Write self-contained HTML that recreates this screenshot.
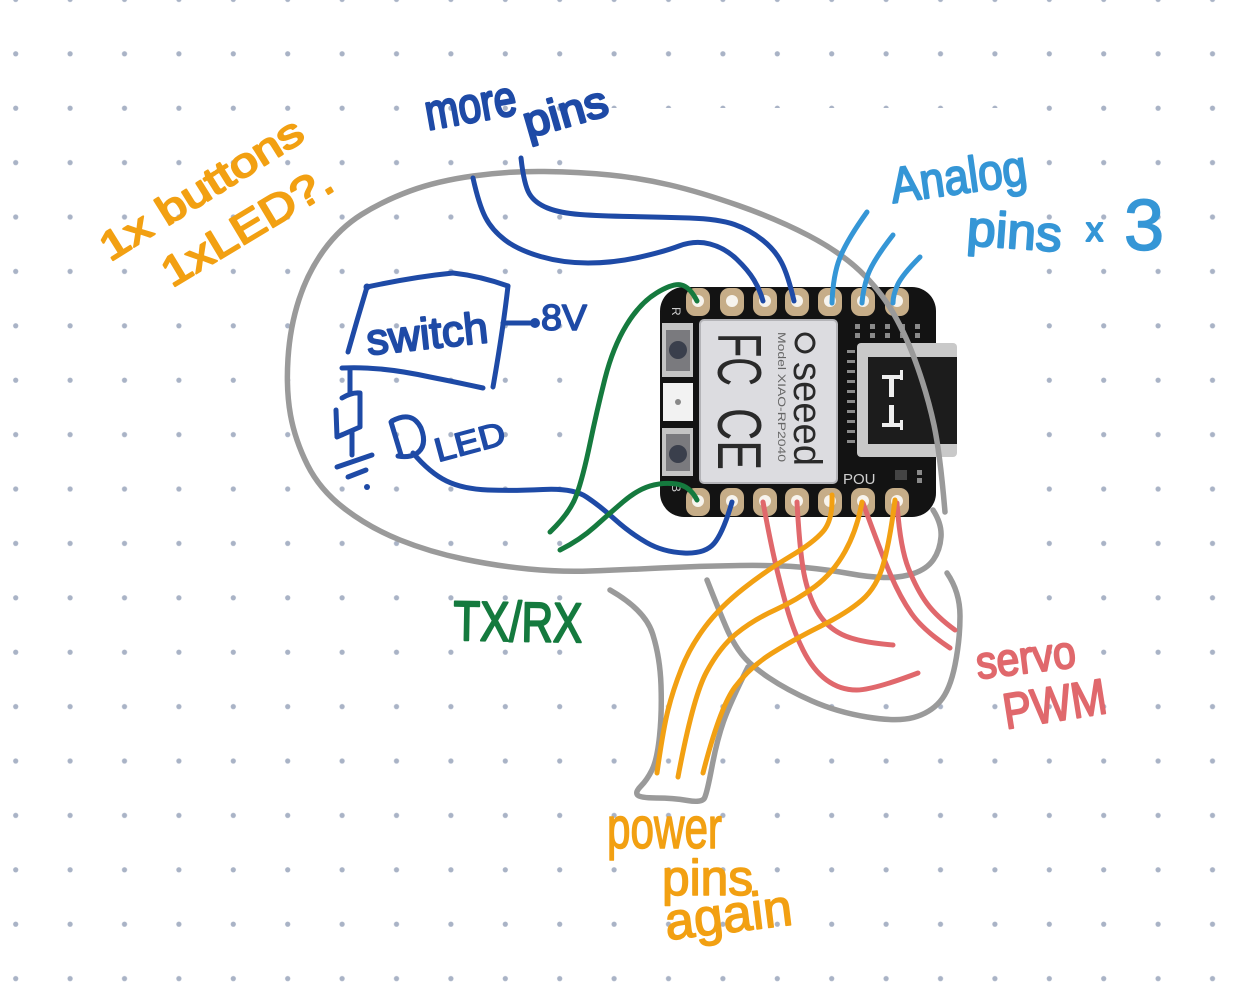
<!DOCTYPE html>
<html><head><meta charset="utf-8"><style>
html,body{margin:0;padding:0;background:#fff;}
svg{display:block;}
text{font-family:"Liberation Sans",sans-serif;}
.w{fill:none;stroke-linecap:round;stroke-linejoin:round;}
</style></head><body>
<svg width="1239" height="990" viewBox="0 0 1239 990" xmlns="http://www.w3.org/2000/svg">
<defs>
<pattern id="dots" x="-11.5" y="-27.8" width="54.4" height="54.4" patternUnits="userSpaceOnUse">
<circle cx="27.2" cy="27.2" r="2.6" fill="#a9b3c6"/>
</pattern>
</defs>
<rect width="1239" height="990" fill="#fff"/>
<rect width="1239" height="990" fill="url(#dots)"/>
<rect x="590" y="108" width="432" height="572" fill="#fff"/>

<!-- BOARD -->
<g>
<rect x="660" y="287" width="276" height="230" rx="24" fill="#131313"/>
<!-- top pads -->
<g fill="#c6ad88">
<rect x="686" y="288" width="24" height="28" rx="9"/>
<rect x="720" y="288" width="24" height="28" rx="9"/>
<rect x="753" y="288" width="24" height="28" rx="9"/>
<rect x="785" y="288" width="24" height="28" rx="9"/>
<rect x="818" y="288" width="24" height="28" rx="9"/>
<rect x="851" y="288" width="24" height="28" rx="9"/>
<rect x="885" y="288" width="24" height="28" rx="9"/>
<rect x="686" y="488" width="24" height="28" rx="9"/>
<rect x="720" y="488" width="24" height="28" rx="9"/>
<rect x="753" y="488" width="24" height="28" rx="9"/>
<rect x="785" y="488" width="24" height="28" rx="9"/>
<rect x="818" y="488" width="24" height="28" rx="9"/>
<rect x="851" y="488" width="24" height="28" rx="9"/>
<rect x="885" y="488" width="24" height="28" rx="9"/>
</g>
<g fill="#f7f4ee">
<circle cx="698" cy="301" r="6"/><circle cx="732" cy="301" r="6"/><circle cx="765" cy="301" r="6"/><circle cx="797" cy="301" r="6"/><circle cx="830" cy="301" r="6"/><circle cx="863" cy="301" r="6"/><circle cx="897" cy="301" r="6"/>
<circle cx="698" cy="501" r="6"/><circle cx="732" cy="501" r="6"/><circle cx="765" cy="501" r="6"/><circle cx="797" cy="501" r="6"/><circle cx="830" cy="501" r="6"/><circle cx="863" cy="501" r="6"/><circle cx="897" cy="501" r="6"/>
</g>
<!-- shield -->
<rect x="700" y="320" width="137" height="163" rx="4" fill="#dcdce0" stroke="#b4b4b8" stroke-width="2"/>
<text transform="translate(718,333) rotate(90)" font-size="62" fill="#2a2a2a" textLength="53" lengthAdjust="spacingAndGlyphs">FC</text>
<text transform="translate(718,408) rotate(90)" font-size="62" fill="#2a2a2a" textLength="62" lengthAdjust="spacingAndGlyphs">CE</text>
<circle cx="805" cy="343" r="9" fill="none" stroke="#2a2a2a" stroke-width="3"/>
<text transform="translate(794,362) rotate(90)" font-size="40" fill="#2a2a2a" textLength="104" lengthAdjust="spacingAndGlyphs">seeed</text>
<text transform="translate(778,332) rotate(90)" font-size="11" fill="#666" textLength="130" lengthAdjust="spacingAndGlyphs">Model XIAO-RP2040</text>
<!-- buttons -->
<rect x="662" y="323" width="31" height="54" fill="#c4c4c4"/>
<rect x="666" y="330" width="24" height="41" fill="#7a7a7e"/>
<circle cx="678" cy="350" r="9" fill="#3a3f4c"/>
<rect x="662" y="428" width="31" height="48" fill="#c4c4c4"/>
<rect x="666" y="434" width="24" height="37" fill="#7a7a7e"/>
<circle cx="678" cy="454" r="9" fill="#3a3f4c"/>
<rect x="663" y="383" width="30" height="38" fill="#f2f2f2"/>
<circle cx="678" cy="402" r="3" fill="#888"/>
<text transform="translate(672,307) rotate(90)" font-size="12" fill="#ccc">R</text>
<text transform="translate(672,484) rotate(90)" font-size="12" fill="#ccc">B</text>
<!-- small chips -->
<g fill="#8a8a8a">
<rect x="855" y="324" width="5" height="5"/><rect x="855" y="333" width="5" height="5"/>
<rect x="870" y="324" width="5" height="5"/><rect x="870" y="333" width="5" height="5"/>
<rect x="885" y="324" width="5" height="5"/><rect x="885" y="333" width="5" height="5"/>
<rect x="900" y="324" width="5" height="5"/><rect x="900" y="333" width="5" height="5"/>
<rect x="915" y="324" width="5" height="5"/><rect x="915" y="333" width="5" height="5"/>
<rect x="847" y="350" width="8" height="3"/><rect x="847" y="360" width="8" height="3"/><rect x="847" y="370" width="8" height="3"/><rect x="847" y="380" width="8" height="3"/><rect x="847" y="390" width="8" height="3"/><rect x="847" y="400" width="8" height="3"/><rect x="847" y="410" width="8" height="3"/><rect x="847" y="420" width="8" height="3"/><rect x="847" y="430" width="8" height="3"/><rect x="847" y="440" width="8" height="3"/>
<rect x="917" y="470" width="5" height="5"/><rect x="917" y="478" width="5" height="5"/>
</g>
<rect x="895" y="470" width="12" height="10" fill="#444"/>
<!-- USB-C -->
<rect x="857" y="343" width="100" height="114" rx="4" fill="#c9c9c9"/>
<rect x="868" y="357" width="89" height="87" fill="#1c1c1c"/>
<g fill="#eee">
<rect x="882" y="375" width="18" height="4"/><rect x="889" y="375" width="5" height="22"/>
<rect x="889" y="405" width="5" height="20"/><rect x="882" y="423" width="18" height="4"/>
<rect x="900" y="370" width="3" height="10"/><rect x="900" y="420" width="3" height="10"/>
</g>
<text x="843" y="484" font-size="15" fill="#cfcfcf">POU</text>
</g>

<!-- GRAY OUTLINES -->
<g class="w" stroke="#9a9a9a" stroke-width="5.5">
<path d="M933,510 Q942,524 941,537 Q940,550 933.5,559.5 Q927,569 913.5,573.5 Q900,578 884,577.5 Q868,577 849,573.5 Q830,570 805,567.5 Q780,565 740,565.5 Q700,566 660,568 Q620,570 590,571 Q560,572 528.5,569 Q497,566 463.5,559 Q430,552 400,540 Q370,528 345,509 Q320,490 307.5,465 Q295,440 290.5,415 Q286,390 288,358.5 Q290,327 299,299.5 Q308,272 324,250 Q340,228 361.5,214.5 Q383,201 410,191 Q437,181 473,176 Q509,171 544.5,171.5 Q580,172 610,175 Q640,178 670,185 Q700,192 738.5,205.5 Q777,219 808.5,235.5 Q840,252 860,271 Q880,290 893.5,313.5 Q907,337 917.5,367 Q928,397 934,425 Q940,453 945,512"/>
<path d="M610,590 Q645,610 652.5,633.5 Q660,657 661,685 Q662,713 659.5,736.5 Q657,760 652,770 Q647,780 641,786 Q635,792 637.5,795 Q640,798 656.5,798 Q673,798 687.5,800.5 Q702,803 704.5,798 Q707,793 712,766.5 Q717,740 723.5,721.5 Q730,703 748,667"/>
<path d="M707,580 Q720,613 726.5,628 Q733,643 741.5,654 Q750,665 768.5,677.5 Q787,690 812,701 Q837,712 867,717 Q897,722 913.5,717.5 Q930,713 940,701.5 Q950,690 955,665 Q960,640 960,616 Q960,592 947,573"/>
</g>

<!-- DARK BLUE -->
<g class="w" stroke="#1e4aa6" stroke-width="5">
<path d="M473,178 Q479,205 485.5,217.5 Q492,230 505,240 Q518,250 540.5,256.5 Q563,263 588,263 Q613,263 638,257.5 Q663,252 679,246 Q695,240 710,244 Q725,248 736.5,259 Q748,270 754,280 Q760,290 763,301"/>
<path d="M521,158 Q524,185 529.5,194 Q535,203 547.5,208 Q560,213 580,214.5 Q600,216 630,216.5 Q660,217 689.5,218 Q719,219 734.5,224.5 Q750,230 762.5,240 Q775,250 781.5,262.5 Q788,275 794,301"/>
<path d="M413,453 Q430,473 446.5,481 Q463,489 488,490 Q513,491 543,489.5 Q573,488 586.5,497 Q600,506 615,519.5 Q630,533 646.5,542.5 Q663,552 684,553 Q705,554 714,543.5 Q723,533 732,502"/>
<!-- switch box -->
<path d="M367,287 Q413,277 453,273 Q480,276 508,286"/>
<path d="M508,286 Q503,330 493,387"/>
<path d="M367,287 Q357,320 348,352"/>
<path d="M342,368 Q380,366 430,377 Q460,383 483,388"/>
<path d="M503,323 L535,323"/>
<!-- resistor + ground -->
<path d="M350,368 L350,392"/>
<path d="M342,398 Q352,392 360,393 L360,427 L337,437 L336,410"/>
<path d="M352,432 L352,455"/>
<path d="M337,467 L372,455"/>
<path d="M348,477 L366,470"/>
<!-- LED symbol -->
<path d="M391,422 L401,455"/>
<path d="M392,421 Q412,410 421,428 Q428,446 416,454 Q408,458 398,456"/>
</g>
<g fill="#1e4aa6">
<circle cx="535" cy="323" r="5"/>
<circle cx="367" cy="287" r="3.5"/>
<circle cx="367" cy="487" r="3"/>
</g>

<!-- GREEN -->
<g class="w" stroke="#157a3e" stroke-width="5">
<path d="M550,532 Q570,513 576.5,495 Q583,477 590,443.5 Q597,410 605,378.5 Q613,347 626.5,325 Q640,303 656.5,293 Q673,283 681.5,285 Q690,287 697,301"/>
<path d="M560,550 Q580,540 595,526.5 Q610,513 623.5,501.5 Q637,490 650,486 Q663,482 676.5,484 Q690,486 697,500"/>
</g>

<!-- RED -->
<g class="w" stroke="#e0686c" stroke-width="5">
<path d="M763,502 Q770,540 775,561.5 Q780,583 786.5,606.5 Q793,630 803,650 Q813,670 826.5,680 Q840,690 856.5,690 Q873,690 918,673"/>
<path d="M797,502 Q800,557 805,578.5 Q810,600 818.5,613.5 Q827,627 842,634.5 Q857,642 893,645"/>
<path d="M863,503 Q880,550 890,573.5 Q900,597 911.5,613.5 Q923,630 950,648"/>
<path d="M897,503 Q900,547 908.5,568.5 Q917,590 927,603.5 Q937,617 955,630"/>
</g>

<!-- ORANGE -->
<g class="w" stroke="#f2a012" stroke-width="5">
<path d="M832,495 Q833,520 823,531.5 Q813,543 790,556.5 Q767,570 743.5,588.5 Q720,607 705,627 Q690,647 681.5,668.5 Q673,690 668,710 Q663,730 657,773"/>
<path d="M862,502 Q857,530 845,551.5 Q833,573 815,586.5 Q797,600 775,610 Q753,620 736.5,633.5 Q720,647 706.5,672 Q693,697 678,777"/>
<path d="M895,500 Q890,540 883.5,563.5 Q877,587 862,600 Q847,613 820,626.5 Q793,640 771.5,653.5 Q750,667 735,687 Q720,707 703,773"/>
</g>

<!-- LIGHT BLUE -->
<g class="w" stroke="#3596d6" stroke-width="5">
<path d="M867,212 Q847,240 840,257.5 Q833,275 832,303"/>
<path d="M893,235 Q872,262 867.5,276 Q863,290 862,303"/>
<path d="M920,257 Q902,275 897.5,285 Q893,295 893,303"/>
</g>

<!-- TEXT LABELS -->
<g stroke-linejoin="round">
<text transform="translate(110,262) rotate(-32)" font-size="40" fill="#f2a012" stroke="#f2a012" stroke-width="2" textLength="232" lengthAdjust="spacingAndGlyphs">1x buttons</text>
<text transform="translate(172,288) rotate(-31)" font-size="42" fill="#f2a012" stroke="#f2a012" stroke-width="2" textLength="192" lengthAdjust="spacingAndGlyphs">1xLED?.</text>

<text transform="translate(428,130) rotate(-10)" font-size="50" fill="#1e4aa6" stroke="#1e4aa6" stroke-width="2.5" textLength="92" lengthAdjust="spacingAndGlyphs">more</text>
<text transform="translate(528,138) rotate(-16)" font-size="44" fill="#1e4aa6" stroke="#1e4aa6" stroke-width="2.5" textLength="86" lengthAdjust="spacingAndGlyphs">pins</text>

<text transform="translate(368,355) rotate(-6)" font-size="44" fill="#1e4aa6" stroke="#1e4aa6" stroke-width="2" textLength="122" lengthAdjust="spacingAndGlyphs">switch</text>
<text x="541" y="330" font-size="36" fill="#1e4aa6" stroke="#1e4aa6" stroke-width="1.5" textLength="46" lengthAdjust="spacingAndGlyphs">8V</text>
<text transform="translate(438,462) rotate(-15)" font-size="33" fill="#1e4aa6" stroke="#1e4aa6" stroke-width="1.5" textLength="72" lengthAdjust="spacingAndGlyphs">LED</text>

<text transform="translate(893,203) rotate(-8)" font-size="50" fill="#3596d6" stroke="#3596d6" stroke-width="2" textLength="137" lengthAdjust="spacingAndGlyphs">Analog</text>
<text transform="translate(966,245) rotate(4)" font-size="50" fill="#3596d6" stroke="#3596d6" stroke-width="2" textLength="95" lengthAdjust="spacingAndGlyphs">pins</text>
<text x="1086" y="241" font-size="34" fill="#3596d6" stroke="#3596d6" stroke-width="2">x</text>
<text x="1124" y="250" font-size="72" fill="#3596d6" stroke="#3596d6" stroke-width="1.5">3</text>

<text transform="translate(453,640) rotate(1)" font-size="56" fill="#157a3e" stroke="#157a3e" stroke-width="2" textLength="129" lengthAdjust="spacingAndGlyphs">TX/RX</text>

<text x="607" y="848" font-size="58" fill="#f2a012" stroke="#f2a012" stroke-width="1.5" textLength="115" lengthAdjust="spacingAndGlyphs">power</text>
<text x="662" y="895" font-size="50" fill="#f2a012" stroke="#f2a012" stroke-width="1.5" textLength="91" lengthAdjust="spacingAndGlyphs">pins</text>
<text transform="translate(667,940) rotate(-7)" font-size="52" fill="#f2a012" stroke="#f2a012" stroke-width="1.5" textLength="128" lengthAdjust="spacingAndGlyphs">again</text>

<text transform="translate(978,679) rotate(-7)" font-size="46" fill="#e0686c" stroke="#e0686c" stroke-width="2" textLength="100" lengthAdjust="spacingAndGlyphs">servo</text>
<text transform="translate(1006,729) rotate(-9)" font-size="50" fill="#e0686c" stroke="#e0686c" stroke-width="2" textLength="104" lengthAdjust="spacingAndGlyphs">PWM</text>
</g>
</svg>
</body></html>
